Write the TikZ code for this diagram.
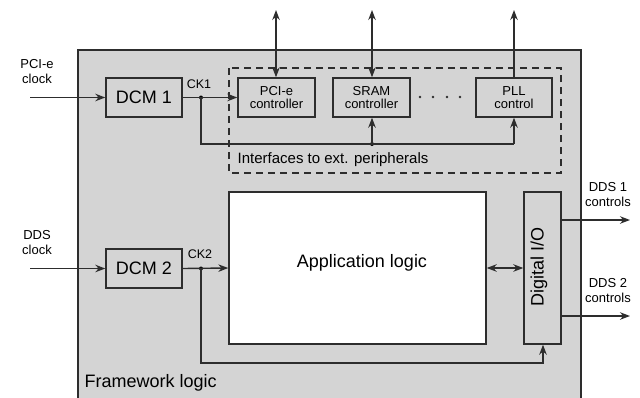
\documentclass[tikz,border=0pt]{standalone}
\usepackage{fontspec}
\setmainfont{Liberation Sans}
\usetikzlibrary{arrows.meta}
\definecolor{bg}{RGB}{212,212,212}
\definecolor{ln}{RGB}{45,45,45}
\begin{document}
\begin{tikzpicture}[x=1pt,y=-1pt,
  line width=1.4pt,
  tip/.style={-{Stealth[length=10pt,width=7.5pt]}},
  dtip/.style={{Stealth[length=10pt,width=7.5pt]}-{Stealth[length=10pt,width=7.5pt]}},
  blk/.style={draw=ln,fill=bg,inner sep=0pt,font=\fontsize{18}{20}\selectfont},
  sblk/.style={draw=ln,fill=bg,inner sep=0pt,minimum height=39pt,align=center,font=\fontsize{13}{15}\selectfont},
  lbl/.style={inner sep=0pt,align=center,font=\fontsize{13}{15}\selectfont},
  jdot/.style={circle,fill=black,inner sep=0pt,minimum size=4pt}]
\useasboundingbox (0,0) rectangle (640,397);
\clip (0,0) rectangle (640,397);
% framework
\draw[ln,fill=bg,line width=1.6pt] (78,50) rectangle (581,420);
\node[inner sep=0pt,anchor=west,font=\fontsize{18}{20}\selectfont] (fw) at (84,383) {Framework logic};
% dashed interfaces box
\draw[ln,dash pattern=on 7pt off 5pt] (229,68) rectangle (561,173);
\node[inner sep=0pt,anchor=west,font=\fontsize{15}{17}\selectfont] (ifc) at (237,160) {Interfaces to ext. peripherals};
% blocks
\node[blk,minimum width=76pt,minimum height=39pt] (dcm1) at (144,97.5) {DCM 1};
\node[blk,minimum width=76pt,minimum height=39pt] (dcm2) at (144,268.5) {DCM 2};
\node[sblk,minimum width=77pt] (pcie) at (276.5,97.5) {PCI-e\\[-2pt]controller};
\node[sblk,minimum width=77pt] (sram) at (371.5,97.5) {SRAM\\[-2pt]controller};
\node[sblk,minimum width=76pt] (pll) at (514,97.5) {PLL\\[-2pt]control};
\node[draw=ln,fill=white,minimum width=257pt,minimum height=152pt,inner sep=0pt] (app) at (357.5,268) {};
\node[inner sep=0pt,font=\fontsize{18}{20}\selectfont] (apptxt) at (362,263) {Application logic};
\node[draw=ln,fill=bg,minimum width=37pt,minimum height=152pt,inner sep=0pt] (dio) at (542.5,268) {};
\node[inner sep=0pt,rotate=90,font=\fontsize{18}{20}\selectfont] (diotxt) at (539,267) {Digital I/O};
% dots between controllers
\foreach \xx in {420,433,447,460} \fill[ln] (\xx,97) circle (1.3pt);
% labels
\node[lbl] (l1) at (37,72) {PCI-e\\clock};
\node[lbl] (l2) at (37,243) {DDS\\clock};
\node[lbl] (l3) at (608,195) {DDS 1\\controls};
\node[lbl] (l4) at (608,291) {DDS 2\\controls};
\node[lbl,font=\fontsize{12.5}{14}\selectfont] (ck1) at (199,84) {CK1};
\node[lbl,font=\fontsize{12.5}{14}\selectfont] (ck2) at (200,254) {CK2};
% coordinates
\coordinate (in1) at (30,97.5);
\coordinate (in2) at (30,268.5);
\coordinate (out1) at (630,220);
\coordinate (out2) at (630,316);
\coordinate (t1) at (276,10);
\coordinate (t2) at (372,10);
\coordinate (t3) at (514,10);
\node[jdot] (j1) at (201,97.5) {};
\node[jdot] (j2) at (372,144) {};
\node[jdot] (j3) at (201,268.5) {};
\coordinate (c1) at (201,144);
\coordinate (c2) at (514,144);
\coordinate (c3) at (201,363);
\coordinate (c4) at (543,363);
% connectors
\draw[ln,tip] (in1) -- (dcm1.west);
\draw[ln,tip] (in2) -- (dcm2.west);
\draw[ln,tip] (dcm1.east) -- (pcie.west);
\draw[ln,tip] (dcm2.east) -- (app.west);
\draw[ln] (j1.center) -- (c1) -- (c2);
\draw[ln,tip] (j2.center) -- (sram.south -| j2);
\draw[ln,tip] (c2) -- (pll.south -| c2);
\draw[ln,dtip] (t1) -- (pcie.north -| t1);
\draw[ln,dtip] (t2) -- (sram.north -| t2);
\draw[ln,tip] (pll.north -| t3) -- (t3);
\draw[ln,tip] (j3.center) -- (c3) -- (c4) -- (dio.south -| c4);
\draw[ln,dtip] (app.east |- dio) -- (dio.west);
\draw[ln,tip] (dio.east |- out1) -- (out1);
\draw[ln,tip] (dio.east |- out2) -- (out2);
\end{tikzpicture}
\end{document}
